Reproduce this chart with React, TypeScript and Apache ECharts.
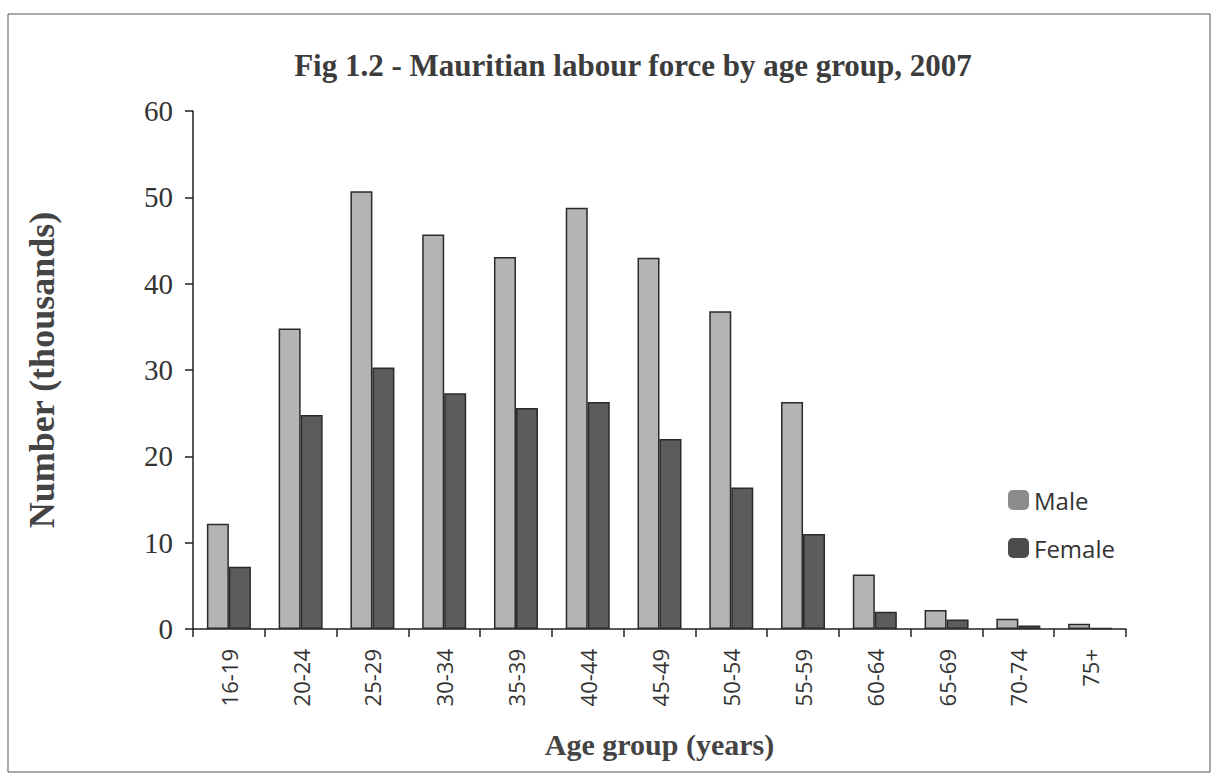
import React, { useEffect, useRef } from "react";
import * as echarts from "echarts";

const categories = ["16-19", "20-24", "25-29", "30-34", "35-39", "40-44", "45-49", "50-54", "55-59", "60-64", "65-69", "70-74", "75+"];
const maleValues = [12.2, 34.8, 50.7, 45.7, 43.1, 48.8, 43.0, 36.8, 26.3, 6.3, 2.2, 1.2, 0.6];
const femaleValues = [7.2, 24.8, 30.3, 27.3, 25.6, 26.3, 22.0, 16.4, 11.0, 2.0, 1.1, 0.4, 0.1];
const yTicks = { min: 0, max: 60, interval: 10 };

const SERIF = "'Liberation Serif', 'Times New Roman', serif";
const SANS = "'Open Sans', 'Liberation Sans', sans-serif";

export default function App() {
  const ref = useRef<HTMLDivElement>(null);
  useEffect(() => {
    if (!ref.current) return;
    const chart = echarts.init(ref.current, undefined, { renderer: "svg" });
    chart.setOption({
      animation: false,
      backgroundColor: "#ffffff",
      title: {
        text: "Fig 1.2 - Mauritian labour force by age group, 2007",
        left: 628,
        top: 45,
        textAlign: "center",
        textStyle: { fontFamily: SERIF, fontWeight: "bold", fontSize: 31, color: "#3c3c3c" },
      },
      graphic: [
        {
          type: "rect",
          shape: { x: 8, y: 14, width: 1202, height: 758 },
          style: { fill: "none", stroke: "#555", lineWidth: 1 },
          silent: true,
        },
      ],
      legend: {
        orient: "vertical",
        left: 1003,
        top: 483,
        itemWidth: 21,
        itemHeight: 20,
        itemGap: 24,
        itemTextGap: 7,
        textStyle: { fontFamily: SANS, fontSize: 24, color: "#333" },
        data: [
          { name: "Male", itemStyle: { color: "#8c8c8c", borderWidth: 0 } },
          { name: "Female", itemStyle: { color: "#4c4c4c", borderWidth: 0 } },
        ],
      },
      grid: { left: 193, right: 92, top: 111, bottom: 151, containLabel: false },
      xAxis: {
        type: "category",
        data: categories,
        name: "Age group (years)",
        nameLocation: "middle",
        nameGap: 100,
        nameTextStyle: { fontFamily: SERIF, fontWeight: "bold", fontSize: 30, color: "#444" },
        axisLine: { lineStyle: { color: "#222", width: 1.5 } },
        axisTick: { show: true, length: 8, inside: false, lineStyle: { color: "#222", width: 1.5 } },
        axisLabel: { rotate: 90, margin: 20, fontFamily: SANS, fontSize: 22, color: "#333" },
      },
      yAxis: {
        type: "value",
        min: yTicks.min,
        max: yTicks.max,
        interval: yTicks.interval,
        name: "Number (thousands)",
        nameLocation: "middle",
        nameGap: 133,
        nameTextStyle: { fontFamily: SERIF, fontWeight: "bold", fontSize: 36, color: "#444" },
        splitLine: { show: false },
        axisLine: { show: true, lineStyle: { color: "#222", width: 1.5 } },
        axisTick: { show: true, length: 8, lineStyle: { color: "#222", width: 1.5 } },
        axisLabel: { margin: 20, fontFamily: SERIF, fontSize: 29, color: "#333" },
      },
      series: [
        {
          name: "Male",
          type: "bar",
          data: maleValues,
          barWidth: 22,
          barGap: "0%",
          itemStyle: { color: "#b4b4b4", borderColor: "#2a2a2a", borderWidth: 1.5 },
        },
        {
          name: "Female",
          type: "bar",
          data: femaleValues,
          barWidth: 22,
          barGap: "0%",
          itemStyle: { color: "#5c5c5c", borderColor: "#2a2a2a", borderWidth: 1.5 },
        },
      ],
    });
    return () => chart.dispose();
  }, []);
  return <div ref={ref} style={{ position: "fixed", left: 0, top: 0, width: 1218, height: 780 }} />;
}
